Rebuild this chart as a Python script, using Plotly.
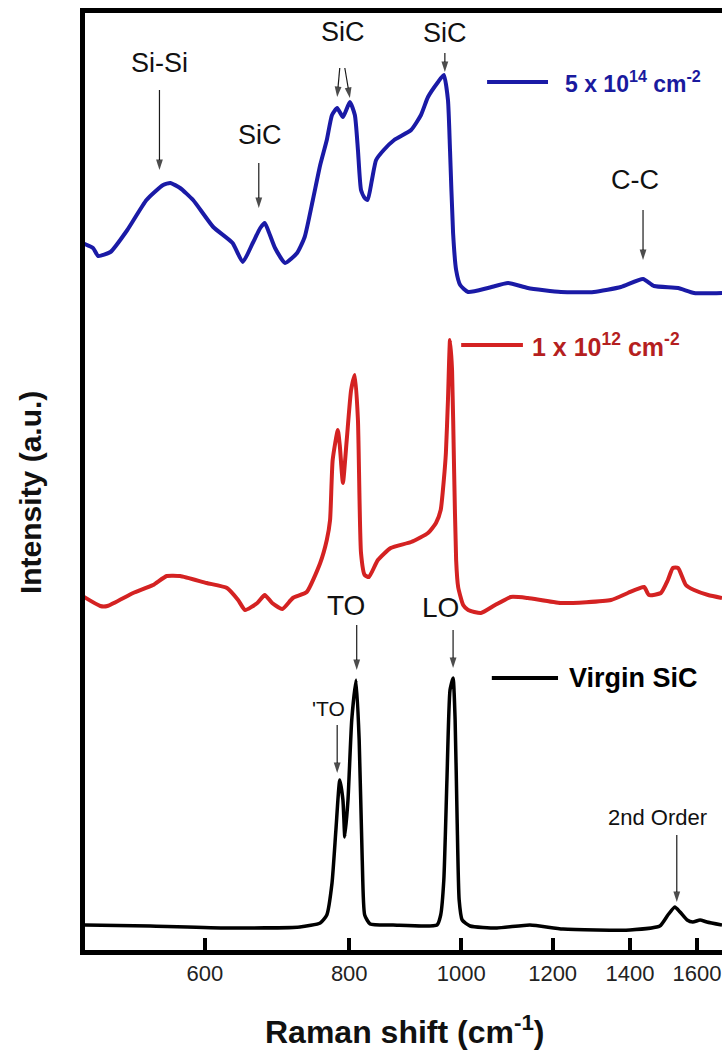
import numpy as np
import plotly.graph_objects as go

# ---------------- data (Raman shift in cm^-1, intensity in a.u. with offsets) -------------
virgin_wn = [470, 538, 627, 725, 755, 765, 773, 779, 785, 790, 793, 798, 804, 811, 816, 821, 825, 834,
             873, 953, 960, 966, 972, 978, 984, 988, 992, 996, 1002, 1018, 1074, 1147, 1225, 1400,
             1486, 1510, 1531, 1547, 1569, 1587, 1610, 1632, 1682]
virgin_int = [25, 24, 22, 23, 27, 35, 67, 120, 170, 150, 113, 150, 230, 270, 210, 90, 35, 26,
              25, 25, 35, 70, 170, 260, 272, 230, 130, 50, 30, 24, 22, 25, 21, 20,
              24, 35, 43, 38, 30, 28, 30, 28, 25]

dose12_wn = [470, 487, 494, 520, 541, 556, 571, 602, 627, 641, 650, 666, 676, 686, 700, 715, 735, 755,
             765, 770, 774, 782, 785, 790, 796, 803, 809, 814, 819, 825, 832, 847, 869, 905, 936,
             951, 960, 966, 970, 974, 978, 982, 986, 990, 994, 1004, 1014, 1040, 1070, 1104, 1142,
             1220, 1348, 1394, 1440, 1454, 1489, 1510, 1525, 1541, 1565, 1591, 1636, 1682]
dose12_int = [354, 344, 344, 357, 365, 374, 374, 367, 362, 350, 340, 347, 355, 347, 341, 352, 358, 387,
              410, 430, 490, 520, 505, 467, 510, 560, 575, 530, 397, 375, 373, 390, 402, 408, 417,
              427, 440, 470, 497, 550, 610, 580, 480, 390, 363, 345, 340, 337, 345, 353, 352,
              347, 350, 357, 363, 355, 357, 370, 382, 382, 365, 360, 355, 352]

dose14_wn = [470, 480, 485, 497, 514, 534, 552, 560, 571, 586, 610, 634, 647, 660, 670, 676, 683, 690,
             704, 721, 732, 744, 755, 765, 773, 781, 790, 801, 809, 814, 819, 825, 830, 837, 844,
             857, 875, 905, 923, 936, 955, 966, 974, 978, 984, 990, 998, 1014, 1055, 1098, 1142,
             1220, 1303, 1375, 1437, 1469, 1541, 1591, 1682]
dose14_int = [707, 702, 694, 698, 720, 750, 765, 767, 762, 750, 723, 707, 688, 707, 722, 727, 715, 702,
              687, 697, 713, 750, 785, 810, 835, 842, 833, 848, 835, 800, 760, 752, 750, 770, 790,
              800, 810, 820, 835, 853, 868, 875, 850, 800, 717, 680, 665, 658, 662, 667, 662,
              658, 658, 663, 671, 664, 662, 657, 657]

tick_vals = [600, 800, 1000, 1200, 1400, 1600]
tick_text = ["600", "800", "1000", "1200", "1400", "1600"]

# peak labels: text, wavenumber, intensity, font size
label_text = ["Si-Si", "SiC", "SiC", "SiC", "C-C", "TO", "LO", "'TO", "2nd Order"]
label_wn = [548, 670, 790, 968, 1414, 795, 959, 767, 1480]
label_int = [887, 815, 918, 917, 770, 345, 343, 242, 133]
label_size = [27, 27, 27, 27, 27, 28, 28, 21, 22]

# arrows: tail (wn, int) -> head (wn, int)
arrow_tail_wn = [548, 668, 785, 793, 968, 1437, 812, 984, 781, 1537]
arrow_tail_int = [860, 787, 882, 882, 897, 740, 325, 320, 225, 115]
arrow_head_wn = [548, 668, 781, 801, 968, 1437, 812, 984, 781, 1537]
arrow_head_int = [780, 742, 853, 852, 878, 690, 280, 282, 177, 48]

# legend-like series labels
series_names = ["5 x 10<sup>14</sup> cm<sup>-2</sup>", "1 x 10<sup>12</sup> cm<sup>-2</sup>", "Virgin SiC"]
series_colors = ["#1a1aa6", "#d42222", "#000000"]
series_text_colors = ["#1a1a9e", "#b51f1f", "#000000"]
series_line_wn0 = [1053, 1000, 1063]
series_line_wn1 = [1189, 1131, 1213]
series_text_wn = [1226, 1147, 1236]
series_level = [868, 605, 272]
series_text_size = [23, 25, 27]

FONT = "Liberation Sans"
lg = np.log10

fig = go.Figure()
for wn, it, col, w in [(dose14_wn, dose14_int, series_colors[0], 4),
                       (dose12_wn, dose12_int, series_colors[1], 4),
                       (virgin_wn, virgin_int, series_colors[2], 3.5)]:
    fig.add_trace(go.Scatter(x=wn, y=it, mode="lines",
                             line=dict(color=col, width=w, shape="spline", smoothing=0.5),
                             hoverinfo="skip", showlegend=False))

# legend sample lines
for col, w0, w1, lev in zip(series_colors, series_line_wn0, series_line_wn1, series_level):
    fig.add_trace(go.Scatter(x=[w0, w1], y=[lev, lev], mode="lines",
                             line=dict(color=col, width=4), hoverinfo="skip", showlegend=False))

# annotation arrows (one trace, segments separated by gaps)
ax_x, ax_y, ax_s = [], [], []
for tw, ti, hw, hi in zip(arrow_tail_wn, arrow_tail_int, arrow_head_wn, arrow_head_int):
    ax_x += [tw, hw, None]
    ax_y += [ti, hi, None]
    ax_s += [0, 11, 0]
fig.add_trace(go.Scatter(x=ax_x, y=ax_y, mode="lines+markers", connectgaps=False,
                         line=dict(color="#1a1a1a", width=1.2),
                         marker=dict(symbol="arrow", angleref="previous", size=ax_s,
                                     color="black", line=dict(width=0)),
                         hoverinfo="skip", showlegend=False))

annotations = []
for t, wn, it, s in zip(label_text, label_wn, label_int, label_size):
    annotations.append(dict(x=lg(wn), y=it, xref="x", yref="y", text=t, showarrow=False,
                            font=dict(family=FONT, size=s, color="#111"),
                            xanchor="center", yanchor="middle"))

for name, tcol, wt, lev, ts in zip(series_names, series_text_colors, series_text_wn,
                                   series_level, series_text_size):
    annotations.append(dict(x=lg(wt), y=lev, xref="x", yref="y", text="<b>" + name + "</b>",
                            showarrow=False, xanchor="left", yanchor="middle",
                            font=dict(family=FONT, size=ts, color=tcol)))

# axis titles
annotations.append(dict(x=-0.0863, y=0.4877, xref="paper", yref="paper", text="<b>Intensity (a.u.)</b>",
                        textangle=-90, showarrow=False, xanchor="center", yanchor="middle",
                        font=dict(family=FONT, size=30, color="#111")))
annotations.append(dict(x=0.502, y=-0.0854, xref="paper", yref="paper",
                        text="<b>Raman shift (cm<sup>-1</sup>)</b>",
                        showarrow=False, xanchor="center", yanchor="middle",
                        font=dict(family=FONT, size=32, color="#111")))

fig.update_layout(width=722, height=1051, margin=dict(l=85, r=0, t=13, b=101),
                  plot_bgcolor="white", paper_bgcolor="white", showlegend=False,
                  annotations=annotations)
fig.update_xaxes(type="log", range=[lg(472.4), lg(1682)], tickvals=tick_vals, ticktext=tick_text,
                 ticks="inside", ticklen=12, tickwidth=4, tickcolor="black",
                 showline=True, linewidth=5, linecolor="black", mirror=True,
                 showgrid=False, zeroline=False,
                 tickfont=dict(family=FONT, size=22, color="#222"))
fig.update_yaxes(range=[0, 937], showticklabels=False, ticks="", showline=True, linewidth=5,
                 linecolor="black", mirror=False, showgrid=False, zeroline=False)

fig.write_html("out.html")
